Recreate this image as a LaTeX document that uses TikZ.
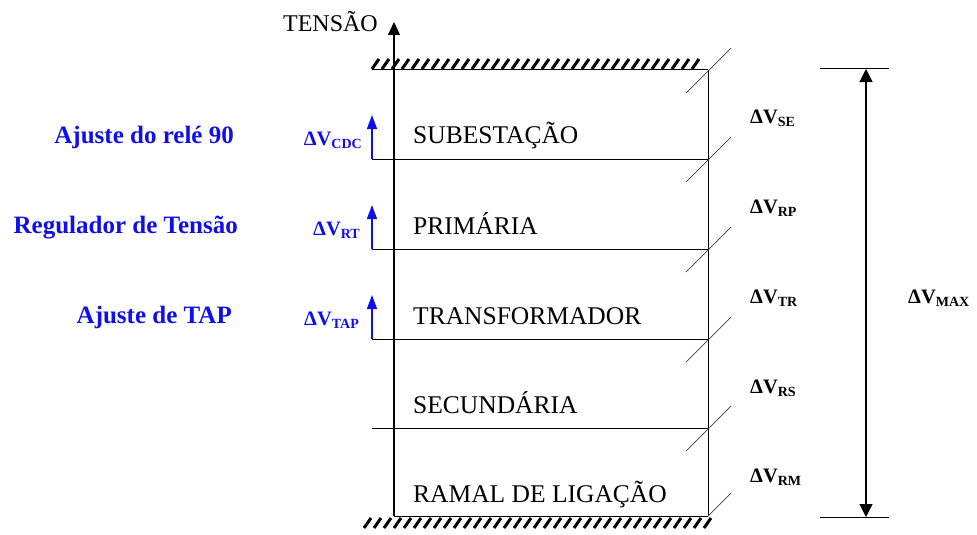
\documentclass[tikz,border=0pt]{standalone}
\usepackage{fontspec}
\setmainfont{Liberation Serif}
\usetikzlibrary{arrows.meta}
\definecolor{adjblue}{RGB}{15,15,235}

\tikzstyle{level} = [line width=1pt, draw=black]
\tikzstyle{slash} = [line width=0.7pt, draw=black!75]
\tikzstyle{hatch} = [line width=3pt, draw=black]
\tikzstyle{axis} = [line width=1.2pt, -{Triangle[width=12pt,length=13pt]}]
\tikzstyle{span} = [line width=1.2pt, {Triangle[width=13pt,length=13pt]}-{Triangle[width=13pt,length=13pt]}]
\tikzstyle{uparrow} = [line width=1.4pt, draw=adjblue, -{Triangle[width=10pt,length=14pt]}]
\tikzstyle{stage} = [anchor=base west, inner sep=0pt, font=\fontsize{25.5}{30}\selectfont]
\tikzstyle{drop} = [anchor=base west, inner sep=0pt, font=\fontsize{20.5}{24}\selectfont\bfseries]
\tikzstyle{adjust} = [anchor=base east, inner sep=0pt, text=adjblue, font=\fontsize{25}{29}\selectfont\bfseries]
\tikzstyle{adjdrop} = [anchor=base east, inner sep=0pt, text=adjblue, font=\fontsize{20.5}{24}\selectfont\bfseries]

\newcommand{\dv}[1]{ΔV\raisebox{-3pt}{\fontsize{14}{16}\selectfont #1}}

\begin{document}
\begin{tikzpicture}[x=1pt, y=-1pt]
    \useasboundingbox (0,0) rectangle (977,535);

    % voltage axis
    \coordinate (base) at (394,516);
    \coordinate (top) at (394,22);
    \draw [axis] (base) -- (top);
    \node (tensao) [stage, anchor=base east, font=\fontsize{24}{28}\selectfont] at (378,32) {TENSÃO};

    % upper and lower limits (hatched)
    \draw [level] (372,70) -- (708,70);
    \foreach \x in {372,382,...,700}
        \draw [hatch] (\x,69) -- ++(7,-10);
    \draw [level] (394,516) -- (708,516);
    \foreach \x in {364,374,...,704}
        \draw [hatch] (\x,528) -- ++(7,-10);

    % right side and level lines
    \draw [level] (708,70) -- (708,516);
    \foreach \y in {159,249,339,428}
        \draw [level] (372,\y) -- (708,\y);
    \foreach \y in {70,159,249,339,428}
        \draw [slash] (686,\y+23) -- (731,\y-22);
    \draw [slash] (708,516) -- (731,493);

    % stages
    \node (subestacao) [stage] at (413,143) {SUBESTAÇÃO};
    \node (primaria) [stage] at (413,234) {PRIMÁRIA};
    \node (transformador) [stage] at (413,324) {TRANSFORMADOR};
    \node (secundaria) [stage] at (413,413) {SECUNDÁRIA};
    \node (ramal) [stage] at (413,502) {RAMAL DE LIGAÇÃO};

    % voltage drops
    \node (dvse) [drop] at (750,123) {\dv{SE}};
    \node (dvrp) [drop] at (750,213) {\dv{RP}};
    \node (dvtr) [drop] at (750,303) {\dv{TR}};
    \node (dvrs) [drop] at (750,393) {\dv{RS}};
    \node (dvrm) [drop] at (750,482) {\dv{RM}};

    % total drop
    \coordinate (maxtop) at (866,69);
    \coordinate (maxbot) at (866,517);
    \draw [level] (820,69) -- (889,69);
    \draw [level] (820,517) -- (889,517);
    \draw [span] (maxtop) -- (maxbot);
    \node (dvmax) [drop] at (908,303) {\dv{MAX}};

    % adjustments
    \draw [uparrow] (372,159) -- (372,115);
    \draw [uparrow] (372,249) -- (372,205);
    \draw [uparrow] (372,339) -- (372,295);
    \node (dvcdc) [adjdrop] at (362,145) {\dv{CDC}};
    \node (dvrt) [adjdrop] at (360,235) {\dv{RT}};
    \node (dvtap) [adjdrop] at (359,325) {\dv{TAP}};
    \node (rele) [adjust] at (234,143) {Ajuste do relé 90};
    \node (regulador) [adjust] at (238,233) {Regulador de Tensão};
    \node (tap) [adjust] at (232,323) {Ajuste de TAP};
\end{tikzpicture}
\end{document}
